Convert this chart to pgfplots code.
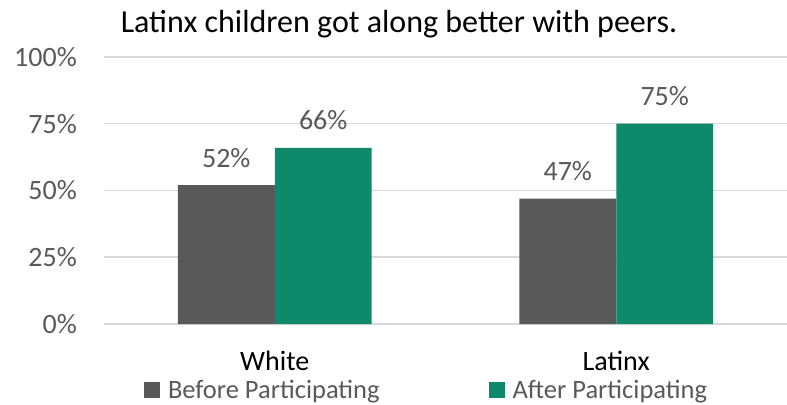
\documentclass[border=0pt]{standalone}
\usepackage{pgfplots}
\pgfplotsset{compat=1.18}
\usepackage{fontspec}
\setmainfont{Carlito}
\definecolor{bargray}{HTML}{595959}
\definecolor{bargreen}{HTML}{0E8A6A}
\definecolor{txtgray}{HTML}{595959}
\definecolor{gridgray}{HTML}{D9D9D9}
\begin{document}
\begin{tikzpicture}
\useasboundingbox (0bp,0bp) rectangle (787bp,405bp);
\node[anchor=base, inner sep=0pt, font=\fontsize{32bp}{36bp}\selectfont, text=black] at (399bp,372bp) {Latinx children got along better with peers.};
\begin{axis}[
  at={(104bp,81bp)}, anchor=south west,
  scale only axis, width=683bp, height=267bp,
  xmin=-0.5, xmax=1.5, ymin=0, ymax=100,
  ybar, bar width=0.284,
  /pgf/number format/assume math mode=true,
  ytick={0,25,50,75,100},
  yticklabel={\pgfmathprintnumber{\tick}\%},
  xtick={0,1}, xticklabels={White,Latinx},
  ymajorgrids, grid style={gridgray, line width=1.5bp},
  axis line style={draw=none}, tick style={draw=none},
  major tick length=0pt,
  tick label style={font=\fontsize{28bp}{32bp}\selectfont},
  yticklabel style={text=txtgray, anchor=east, inner sep=0pt, xshift=-27bp},
  xticklabel style={text=black, anchor=base, inner sep=0pt, yshift=-46bp},
  nodes near coords={\pgfmathprintnumber{\pgfplotspointmeta}\%},
  nodes near coords style={text=txtgray, font=\fontsize{28bp}{32bp}\selectfont, anchor=base, inner sep=0pt, yshift=18bp},
  clip=false,
  legend columns=2,
  legend style={draw=none, fill=none, at={(axis description cs:0.4722,0)}, anchor=center, yshift=-66bp,
    font=\fontsize{26.5bp}{30bp}\selectfont, text=txtgray,
    /tikz/every odd column/.append style={column sep=6bp},
    /tikz/every even column/.append style={column sep=107bp}},
  legend image code/.code={\fill[#1] (0bp,-8bp) rectangle (16bp,8bp);},
]
\addplot[fill=bargray, draw=none, bar shift=-0.142] coordinates {(0,52) (1,47)};
\addplot[fill=bargreen, draw=none, bar shift=0.142] coordinates {(0,66) (1,75)};
\legend{Before Participating, After Participating}
\end{axis}
\end{tikzpicture}
\end{document}
